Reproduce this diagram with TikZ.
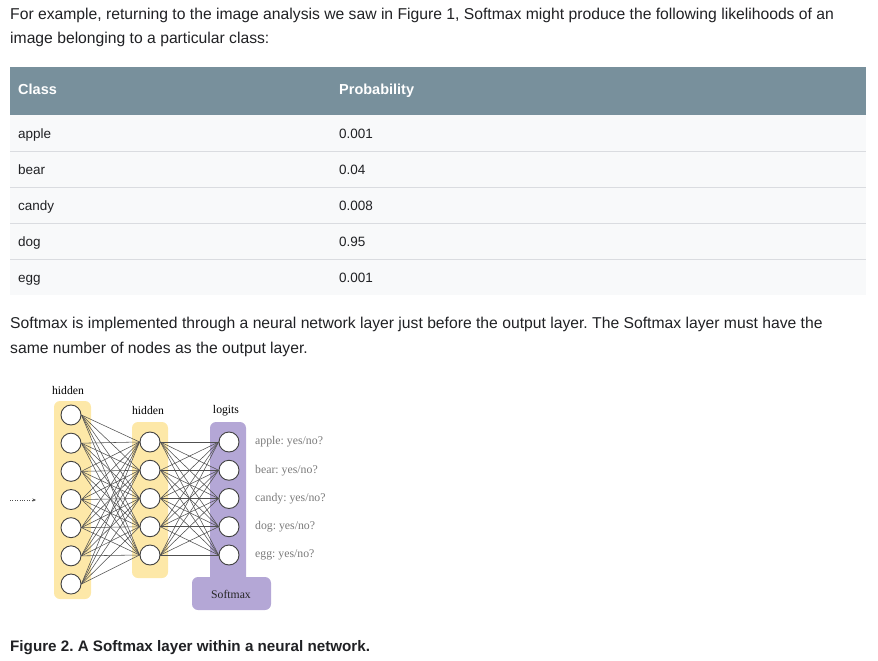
\documentclass[tikz,border=0pt]{standalone}
\usepackage{fontspec}
\setmainfont{Liberation Sans}
\newfontfamily\figfont{Liberation Serif}
\usetikzlibrary{arrows.meta, positioning}
\definecolor{hdrgray}{HTML}{78909C}
\definecolor{rowbg}{HTML}{F8F9FA}
\definecolor{rowline}{HTML}{DADCE0}
\definecolor{txtdark}{HTML}{202124}
\definecolor{cyellow}{HTML}{FDE8A8}
\definecolor{cpurple}{HTML}{B4A7D6}
\definecolor{cedge}{HTML}{505050}
\definecolor{clabel}{HTML}{7A7A7A}
\frenchspacing

\begin{document}
\begin{tikzpicture}[x=1pt, y=-1pt,
  bodytext/.style={anchor=base west, inner sep=0pt, text=txtdark, font=\fontsize{15.7}{18}\selectfont},
  celltext/.style={anchor=base west, inner sep=0pt, text=txtdark, font=\fontsize{13.5}{16}\selectfont},
  neuron/.style={circle, draw=black!75, fill=white, line width=0.9pt, minimum size=20pt, inner sep=0pt},
  figlabel/.style={inner sep=0pt, font=\figfont\fontsize{11.7}{13}\selectfont},
  outlabel/.style={anchor=west, inner sep=0pt, text=clabel, font=\figfont\fontsize{11.8}{13}\selectfont},
  link/.style={draw=cedge, line width=0.55pt}]
  \useasboundingbox (0,0) rectangle (878,661);

  % Intro text
  \node[bodytext] (intro1) at (10,20) {For example, returning to the image analysis we saw in Figure 1, Softmax might produce the following likelihoods of an};
  \node[bodytext] (intro2) at (10,44) {image belonging to a particular class:};

  % Table
  \fill[hdrgray] (10,67) rectangle (866,115);
  \fill[rowbg] (10,115) rectangle (866,295);
  \foreach \y in {151,187,223,259}{
    \draw[rowline, line width=1pt] (10,\y) -- (866,\y);
  }
  \node[celltext, text=white, font=\fontsize{14.5}{16}\selectfont\bfseries] (hdrclass) at (18,95) {Class};
  \node[celltext, text=white, font=\fontsize{14.5}{16}\selectfont\bfseries] (hdrprob) at (339,95) {Probability};
  \foreach \cls/\prob [count=\i] in {apple/0.001, bear/0.04, candy/0.008, dog/0.95, egg/0.001}{
    \node[celltext] (cls\i) at (18,102+36*\i) {\cls};
    \node[celltext] (prob\i) at (339,102+36*\i) {\prob};
  }

  % Second paragraph
  \node[bodytext] (para1) at (10,328) {Softmax is implemented through a neural network layer just before the output layer. The Softmax layer must have the};
  \node[bodytext] (para2) at (10,353) {same number of nodes as the output layer.};

  % Layer backgrounds
  \fill[cyellow, rounded corners=6pt] (54,401) rectangle (91,599);
  \fill[cyellow, rounded corners=6pt] (132,422) rectangle (168,578);
  \fill[cpurple, rounded corners=6pt] (210,422) rectangle (246,590);
  \fill[cpurple, rounded corners=6pt] (192,577) rectangle (271,610);

  % Neurons
  \foreach \i in {1,...,7}{
    \node[neuron] (ha\i) at (71,415+28.17*\i-28.17) {};
  }
  \foreach \i in {1,...,5}{
    \node[neuron] (hb\i) at (150,442+28.25*\i-28.25) {};
    \node[neuron] (lg\i) at (229,442+28.25*\i-28.25) {};
  }

  % Connections
  \foreach \i in {1,...,7}{
    \foreach \j in {1,...,5}{
      \draw[link] (ha\i.east) -- (hb\j.west);
    }
  }
  \foreach \i in {1,...,5}{
    \foreach \j in {1,...,5}{
      \draw[link] (hb\i.east) -- (lg\j.west);
    }
  }

  % Input arrow
  \coordinate (instart) at (10,500);
  \coordinate (inend) at (36,500);
  \draw[cedge, dotted, -{Stealth[length=3.5pt, width=3pt]}] (instart) -- (inend);

  % Labels
  \node[figlabel] (lblha) at (68,390) {hidden};
  \node[figlabel] (lblhb) at (148,410) {hidden};
  \node[figlabel] (lbllg) at (226,411) {logits};
  \foreach \lbl [count=\i] in {apple, bear, candy, dog, egg}{
    \node[outlabel, right=15.5pt of lg\i] (out\i) {\lbl: yes/no?};
  }
  \node[figlabel, text=black!85] (smax) at (231,594) {Softmax};

  % Caption
  \node[bodytext, font=\fontsize{15.2}{18}\selectfont\bfseries] (caption) at (10,651) {Figure 2. A Softmax layer within a neural network.};
\end{tikzpicture}
\end{document}
